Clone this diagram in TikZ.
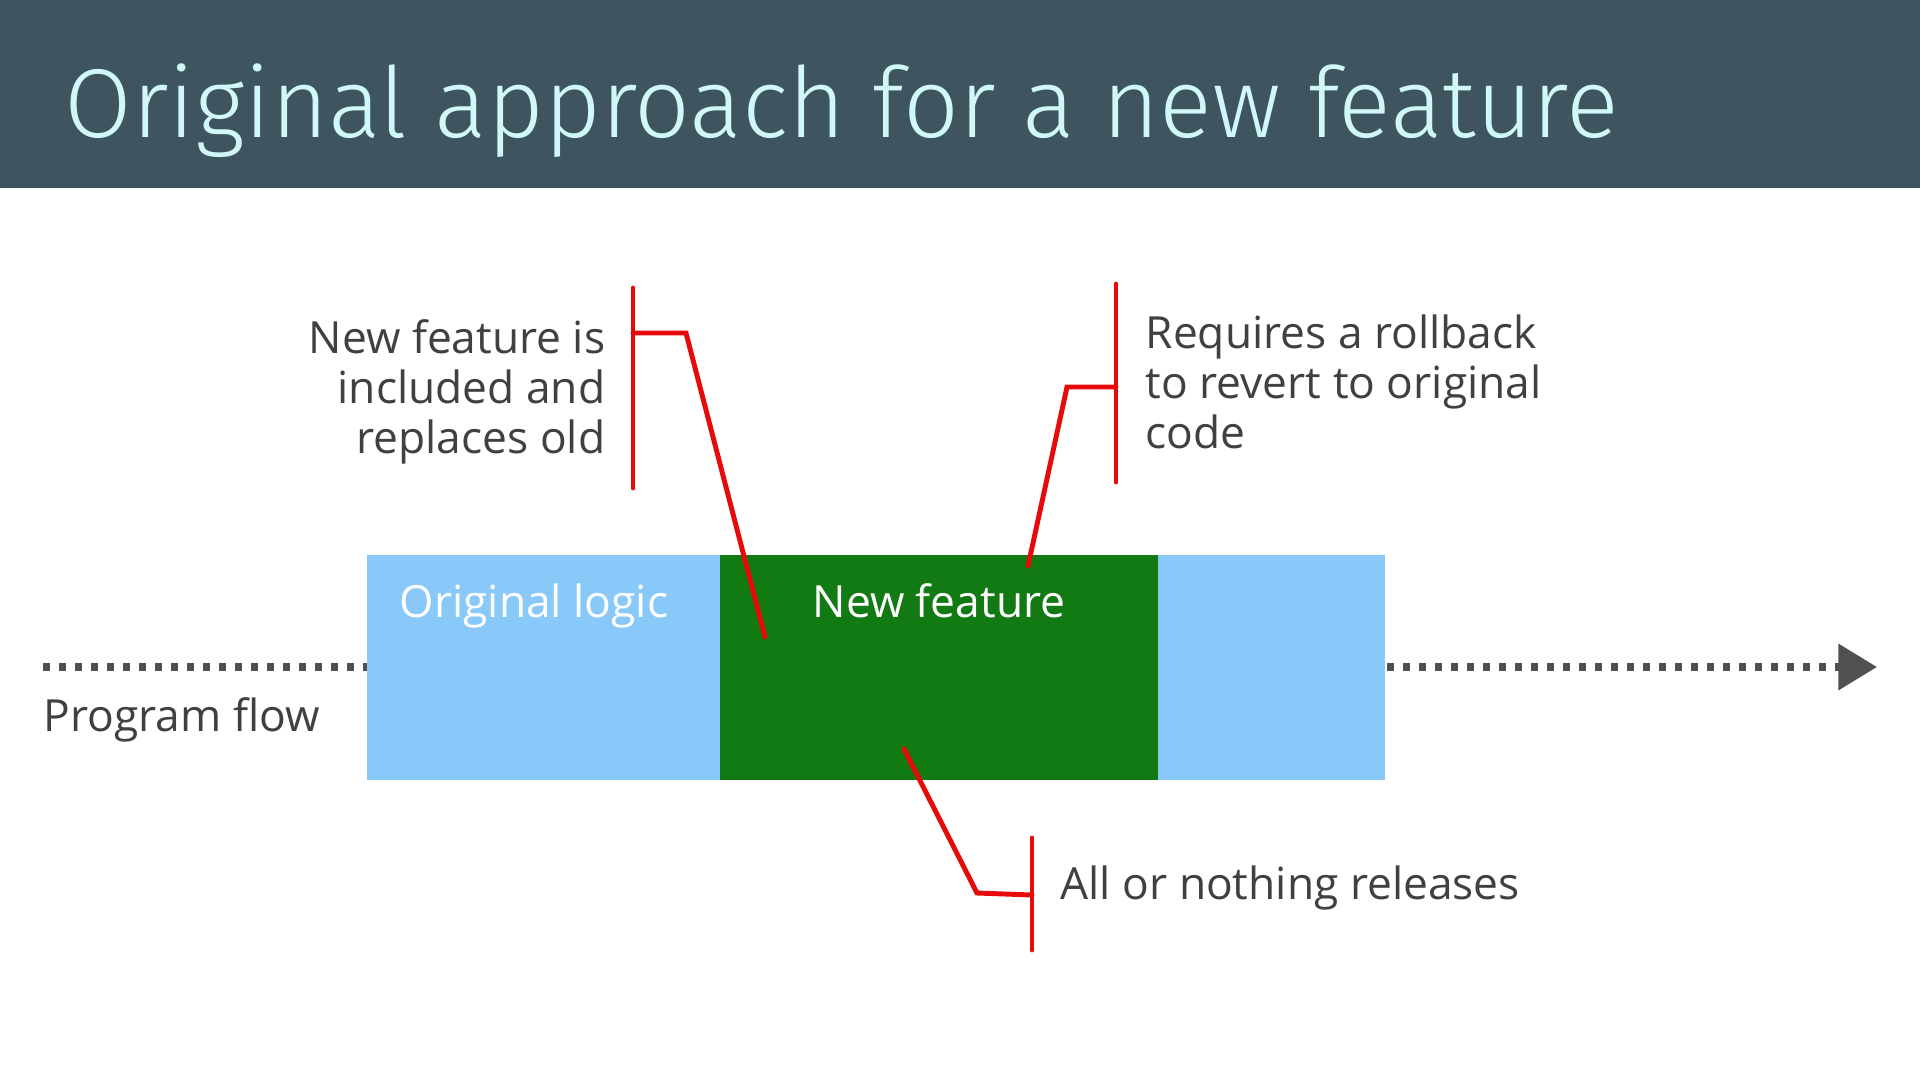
\documentclass[tikz,border=0pt]{standalone}
\usepackage{fontspec}
\setmainfont{Open Sans}
\newfontfamily\titlefont{Fira Sans Light}
\usetikzlibrary{arrows.meta}

\definecolor{headbg}{HTML}{3E5560}
\definecolor{titlecyan}{HTML}{D0F8F8}
\definecolor{oldblue}{HTML}{88C9FA}
\definecolor{newgreen}{HTML}{117A12}
\definecolor{calloutred}{HTML}{E60A0A}
\definecolor{labelgray}{HTML}{404040}
\definecolor{flowgray}{HTML}{505050}

\begin{document}
\begin{tikzpicture}[x=0.01cm, y=-0.01cm,
    callout/.style={draw=calloutred, line width=1.4pt, line cap=round},
    lbl/.style={text=labelgray, inner sep=0pt, font=\fontsize{12.6}{14.2}\selectfont},
    boxlbl/.style={text=white, inner sep=0pt, anchor=base, font=\fontsize{12.6}{14.2}\selectfont},
    seg/.style={inner sep=0pt, outer sep=0pt, anchor=north west, minimum height=2.25cm}]

    \useasboundingbox (0,0) rectangle (1920,1081);

    % Header
    \fill[headbg] (0,0) rectangle (1920,188);
    \node[anchor=base west, inner sep=0pt, text=titlecyan,
          font=\titlefont\fontsize{27.85}{30}\selectfont] (title) at (64,137)
          {Original approach for a new feature};

    % Program flow
    \coordinate (flowstart) at (43,667);
    \coordinate (flowend) at (1877,667);
    \draw[flowgray, line width=2pt, dash pattern=on 2pt off 2.55pt,
          -{Triangle[length=11pt,width=12.8pt]}] (flowstart) -- (flowend);
    \node[lbl, anchor=base west] (flowlbl) at (43,731) {Program flow};

    % Segments
    \node[seg, fill=oldblue, minimum width=3.53cm] (orig) at (367,555) {};
    \node[seg, fill=newgreen, minimum width=4.38cm] (newf) at (orig.north east) {};
    \node[seg, fill=oldblue, minimum width=2.26cm] (rest) at (newf.north east) {};
    \node[boxlbl] (origlbl) at (534,617) {Original logic};
    \node[boxlbl] (newflbl) at (939,617) {New feature};

    % Callout: included
    \node[lbl, align=right, anchor=north east] (inclbl) at (606,319)
        {New feature is\\ included and\\ replaces old};
    \coordinate (inctop) at (633,288);
    \coordinate (incbot) at (633,488);
    \coordinate (incmid) at (633,333);
    \coordinate (incknee) at (686,333);
    \coordinate (incpin) at (765,637);
    \draw[callout] (inctop) -- (incbot);
    \draw[callout] (incmid) -- (incknee) -- (incpin);

    % Callout: rollback
    \node[lbl, align=left, anchor=north west] (rolllbl) at (1145,314)
        {Requires a rollback\\ to revert to original\\ code};
    \coordinate (rolltop) at (1116,284);
    \coordinate (rollbot) at (1116,482);
    \coordinate (rollmid) at (1116,387);
    \coordinate (rollknee) at (1067,387);
    \coordinate (rollpin) at (1028,566);
    \draw[callout] (rolltop) -- (rollbot);
    \draw[callout] (rollmid) -- (rollknee) -- (rollpin);

    % Callout: all or nothing
    \node[lbl, anchor=base west] (alllbl) at (1060,899) {All or nothing releases};
    \coordinate (alltop) at (1032,838);
    \coordinate (allbot) at (1032,950);
    \coordinate (allmid) at (1032,895);
    \coordinate (allknee) at (977,893);
    \coordinate (allpin) at (904,749);
    \draw[callout] (alltop) -- (allbot);
    \draw[callout] (allmid) -- (allknee) -- (allpin);
\end{tikzpicture}
\end{document}
